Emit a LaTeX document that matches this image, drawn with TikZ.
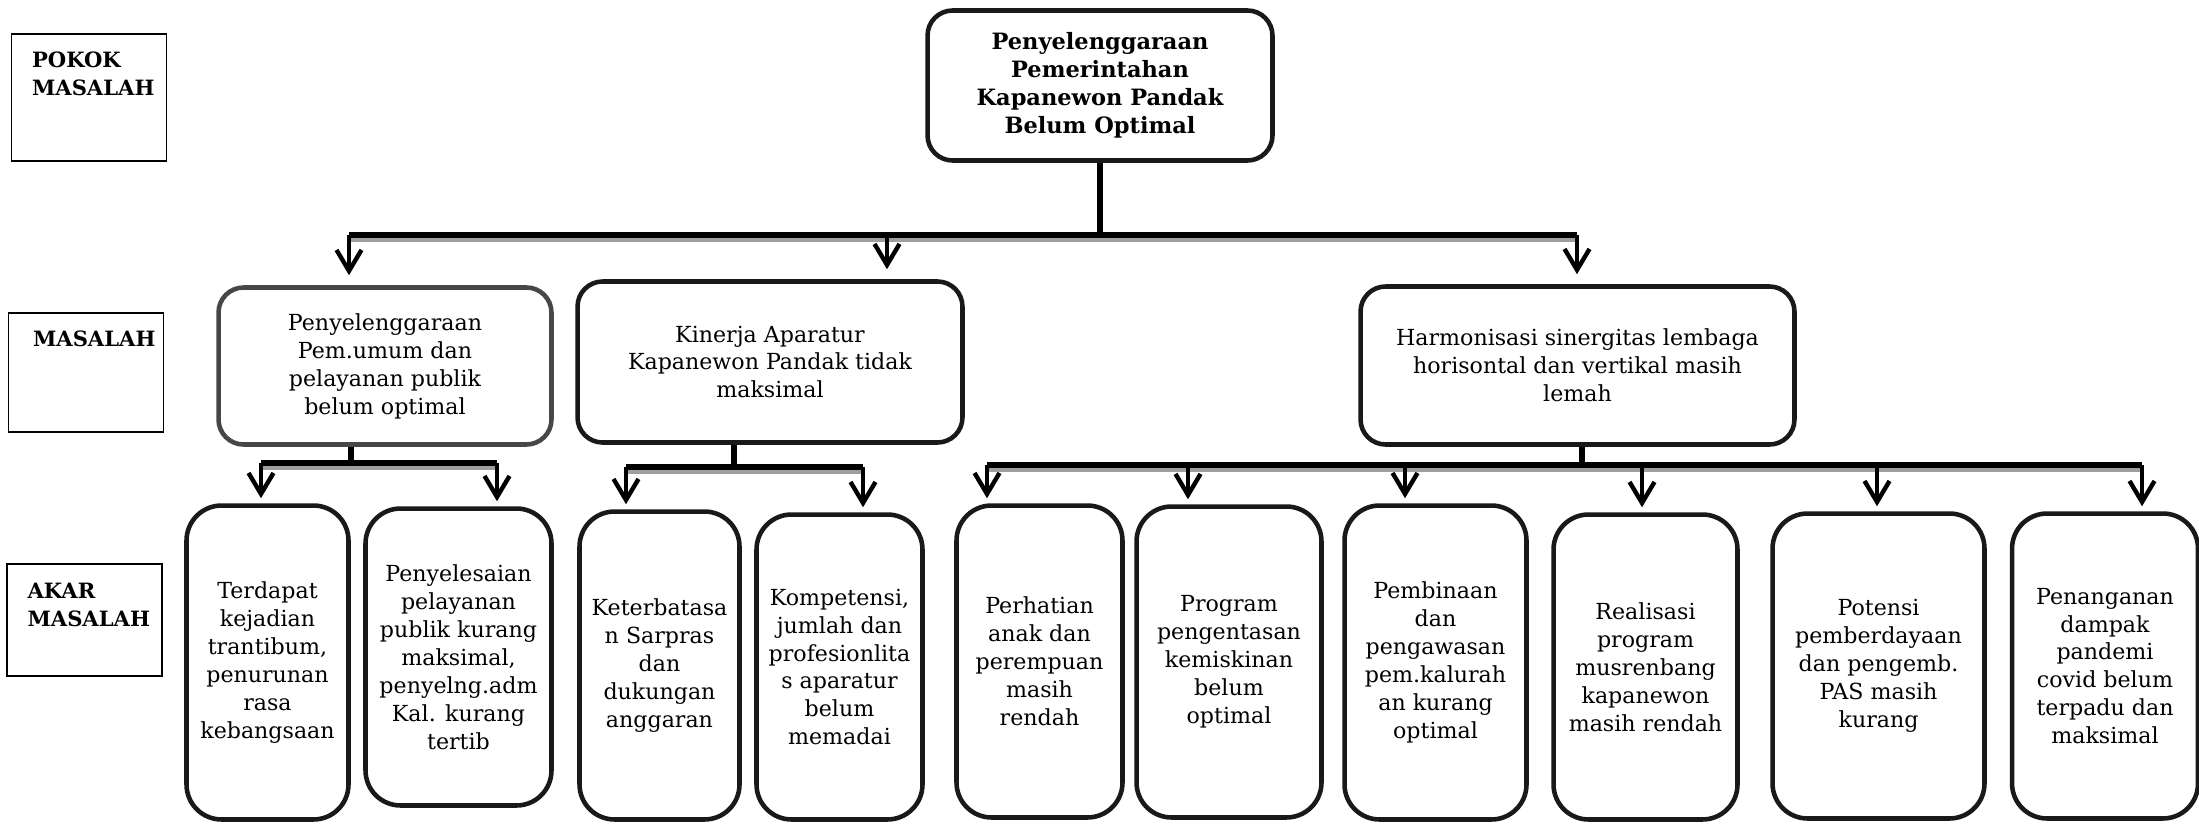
\documentclass[tikz,border=0pt]{standalone}
\usepackage{fontspec}
\setmainfont{DejaVu Serif}
\usetikzlibrary{arrows.meta}

\begin{document}
\begin{tikzpicture}[x=0.02cm, y=-0.02cm, font=\fontsize{12.6}{15.9}\selectfont]
	\useasboundingbox (0,0) rectangle (2199,824);
	\begin{scope}[tag/.style={rectangle, draw, line width=0.9pt, minimum width=3.1cm}, every label/.append style={anchor=north west, align=left, inner sep=0pt, font=\bfseries\fontsize{12}{15.6}\selectfont}]
		\node[tag, minimum height=2.54cm, label={[xshift=0.42cm, yshift=-0.37cm]north west:POKOK\\MASALAH}] (TagPokok) at (89,97.5) {};
		\node[tag, minimum height=2.38cm, label={[xshift=0.5cm, yshift=-0.36cm]north west:MASALAH}] (TagMasalah) at (86,372.5) {};
		\node[tag, minimum height=2.24cm, label={[xshift=0.42cm, yshift=-0.4cm]north west:AKAR\\MASALAH}] (TagAkar) at (84.5,620) {};
	\end{scope}
	\begin{scope}[every node/.style={rectangle, draw=black!90, line width=2.6pt, rounded corners=0.5cm, align=center}]
		\node[minimum width=6.9cm, minimum height=3cm, font=\bfseries\fontsize{12.8}{16}\selectfont] (Pokok) at (1100,85.5) {Penyelenggaraan\\Pemerintahan\\Kapanewon Pandak\\Belum Optimal};
		\node[draw=black!72, minimum width=6.66cm, minimum height=3.14cm] (Layanan) at (385,366) {Penyelenggaraan\\Pem.umum dan\\pelayanan publik\\belum optimal};
		\node[minimum width=7.7cm, minimum height=3.22cm] (Kinerja) at (770,362) {Kinerja Aparatur\\Kapanewon Pandak tidak\\maksimal};
		\node[minimum width=8.68cm, minimum height=3.16cm] (Harmoni) at (1577.5,365.5) {Harmonisasi sinergitas lembaga\\horisontal dan vertikal masih\\lemah};
	\end{scope}
	\begin{scope}[every node/.style={rectangle, draw=black!90, line width=2.6pt, rounded corners=0.7cm, inner xsep=0pt, align=center}]
		\node[minimum width=3.24cm, minimum height=6.28cm] (Trantibum) at (267.5,662.5) {Terdapat\\kejadian\\trantibum,\\penurunan\\rasa\\kebangsaan};
		\node[minimum width=3.72cm, minimum height=5.94cm] (Penyelesaian) at (458.5,657) {Penyelesaian\\pelayanan\\publik kurang\\maksimal,\\penyelng.adm\\Kal. kurang\\tertib};
		\node[minimum width=3.2cm, minimum height=6.16cm] (Sarpras) at (659.5,665.5) {Keterbatasa\\n Sarpras\\dan\\dukungan\\anggaran};
		\node[minimum width=3.32cm, minimum height=6.1cm] (Kompetensi) at (839.5,667) {Kompetensi,\\jumlah  dan\\profesionlita\\s aparatur\\belum\\memadai};
		\node[minimum width=3.32cm, minimum height=6.24cm] (Perhatian) at (1039.5,661.5) {Perhatian\\anak dan\\perempuan\\masih\\rendah};
		\node[minimum width=3.7cm, minimum height=6.22cm] (Kemiskinan) at (1229,662) {Program\\pengentasan\\kemiskinan\\belum\\optimal};
		\node[minimum width=3.64cm, minimum height=6.28cm] (Pembinaan) at (1435.5,662.5) {Pembinaan\\dan\\pengawasan\\pem.kalurah\\an kurang\\optimal};
		\node[minimum width=3.68cm, minimum height=6.1cm] (Musrenbang) at (1645.5,667) {Realisasi\\program\\musrenbang\\kapanewon\\masih rendah};
		\node[minimum width=4.24cm, minimum height=6.1cm] (Pemberdayaan) at (1878.5,666) {Potensi\\pemberdayaan\\dan pengemb.\\PAS masih\\kurang};
		\node[minimum width=3.72cm, minimum height=6.1cm] (Pandemi) at (2105,666) {Penanganan\\dampak\\pandemi\\covid belum\\terpadu dan\\maksimal};
	\end{scope}
	\begin{scope}[>={Straight Barb[length=0.42cm, width=0.5cm]}, line width=2.5pt, stem/.style={line width=3pt}, bus/.style={line width=3pt, preaction={draw=black!38, line width=3pt, transform canvas={yshift=-2.3pt}}}]
	\coordinate (TopW) at (349,235);
	\coordinate (TopM) at (887,235);
	\coordinate (TopE) at (1577,235);
	\draw[stem] (Pokok.south) -- (Pokok.south |- TopW);
	\draw[bus] (TopW) -- (TopE);
	\path [->, shorten >=0.2cm] (TopW) edge (TopW |- Layanan.north);
	\path [->, shorten >=0.2cm] (TopM) edge (TopM |- Kinerja.north);
	\path [->, shorten >=0.2cm] (TopE) edge (TopE |- Harmoni.north);

	\coordinate (LayananS) at (351,463);
	\coordinate (LayananW) at (261,463);
	\coordinate (LayananE) at (497,463);
	\draw[stem] (LayananS |- Layanan.south) -- (LayananS);
	\draw[bus] (LayananW) -- (LayananE);
	\path [->, shorten >=0.1cm] (LayananW) edge (LayananW |- Trantibum.north);
	\path [->, shorten >=0.1cm] (LayananE) edge (LayananE |- Penyelesaian.north);

	\coordinate (KinerjaS) at (734,467);
	\coordinate (KinerjaW) at (626,467);
	\coordinate (KinerjaE) at (863,467);
	\draw[stem] (KinerjaS |- Kinerja.south) -- (KinerjaS);
	\draw[bus] (KinerjaW) -- (KinerjaE);
	\path [->, shorten >=0.1cm] (KinerjaW) edge (KinerjaW |- Sarpras.north);
	\path [->, shorten >=0.1cm] (KinerjaE) edge (KinerjaE |- Kompetensi.north);

	\coordinate (HarmoniS) at (1582,465);
	\coordinate (Harmoni1) at (987,465);
	\coordinate (Harmoni2) at (1188,465);
	\coordinate (Harmoni3) at (1405,465);
	\coordinate (Harmoni4) at (1642,465);
	\coordinate (Harmoni5) at (1877,465);
	\coordinate (Harmoni6) at (2142,465);
	\draw[stem] (HarmoniS |- Harmoni.south) -- (HarmoniS);
	\draw[bus] (Harmoni1) -- (Harmoni6);
	\path [->, shorten >=0.1cm] (Harmoni1) edge (Harmoni1 |- Perhatian.north);
	\path [->, shorten >=0.1cm] (Harmoni2) edge (Harmoni2 |- Kemiskinan.north);
	\path [->, shorten >=0.1cm] (Harmoni3) edge (Harmoni3 |- Pembinaan.north);
	\path [->, shorten >=0.1cm] (Harmoni4) edge (Harmoni4 |- Musrenbang.north);
	\path [->, shorten >=0.1cm] (Harmoni5) edge (Harmoni5 |- Pemberdayaan.north);
	\path [->, shorten >=0.1cm] (Harmoni6) edge (Harmoni6 |- Pandemi.north);
	\end{scope}
\end{tikzpicture}
\end{document}
